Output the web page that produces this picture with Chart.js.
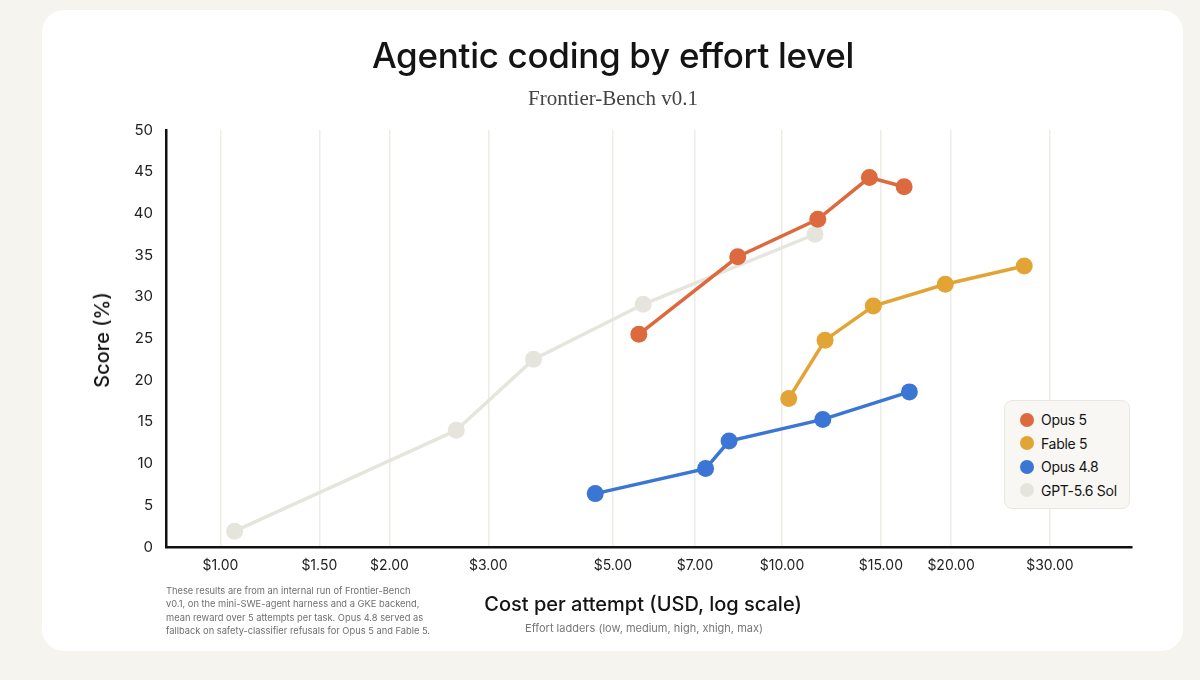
<!DOCTYPE html>
<html>
<head>
<meta charset="utf-8">
<script src="https://cdn.jsdelivr.net/npm/chart.js@4.4.1/dist/chart.umd.min.js"></script>
<style>
  html, body { margin: 0; padding: 0; }
  body { width: 1200px; height: 680px; background: #f6f4ee; position: relative; overflow: hidden; font-family: Inter, "Noto Sans", sans-serif; }
  #card { position: absolute; left: 42px; top: 10px; width: 1141px; height: 641px; background: #fff; border-radius: 22px; }
  #chart { position: absolute; left: 0; top: 0; }
  .abs { position: absolute; white-space: nowrap; }
  #title { left: 0; width: 1226px; top: 34px; text-align: center; font-size: 35px; font-weight: 500; color: #141414; letter-spacing: -0.3px; }
  #subtitle { left: 0; width: 1226px; top: 86px; text-align: center; font-family: "Liberation Serif", serif; font-size: 21px; color: #444; }
  #ytitle { left: 102px; top: 340px; transform: translate(-50%, -50%) rotate(-90deg); font-size: 20px; font-weight: 500; color: #141414; }
  #xtitle { left: 0; width: 1286px; top: 592px; text-align: center; font-size: 20px; font-weight: 500; color: #141414; }
  #xsub { left: 0; width: 1288px; top: 621px; text-align: center; font-size: 11px; color: #777; }
  #note { left: 166px; top: 584px; font-size: 9.3px; line-height: 13.4px; color: #6f6f6f; white-space: normal; width: 275px; }
  #legend { left: 1004px; top: 400px; width: 126px; height: 109px; box-sizing: border-box; background: #f8f7f3; border: 1px solid #e9e7e0; border-radius: 8px; padding: 7px 0 0 15px; }
  #legend div { height: 23.5px; display: flex; align-items: center; font-size: 14px; color: #141414; letter-spacing: -0.3px; }
  #legend span { display: inline-block; width: 14px; height: 14px; border-radius: 50%; margin-right: 7px; }
</style>
</head>
<body>
<div id="card"></div>
<canvas id="chart" width="1200" height="680"></canvas>
<div class="abs" id="title">Agentic coding by effort level</div>
<div class="abs" id="subtitle">Frontier-Bench v0.1</div>
<div class="abs" id="ytitle">Score (%)</div>
<div class="abs" id="xtitle">Cost per attempt (USD, log scale)</div>
<div class="abs" id="xsub">Effort ladders (low, medium, high, xhigh, max)</div>
<div class="abs" id="note">These results are from an internal run of Frontier-Bench<br>v0.1, on the mini-SWE-agent harness and a GKE backend,<br>mean reward over 5 attempts per task. Opus 4.8 served as<br>fallback on safety-classifier refusals for Opus 5 and Fable 5.</div>
<div class="abs" id="legend"></div>
<script>
const seriesNames = ['Opus 5', 'Fable 5', 'Opus 4.8', 'GPT-5.6 Sol'];
const seriesColors = ['#dc6a3e', '#e3a436', '#3b76d4', '#e5e4dd'];

const opus5Cost = [5.56, 8.34, 11.58, 14.31, 16.5];
const opus5Score = [25.5, 34.8, 39.3, 44.3, 43.2];
const fable5Cost = [10.28, 11.93, 14.54, 19.53, 27.0];
const fable5Score = [17.8, 24.8, 28.9, 31.5, 33.7];
const opus48Cost = [4.65, 7.31, 8.05, 11.82, 16.86];
const opus48Score = [6.4, 9.4, 12.7, 15.3, 18.6];
const gptCost = [1.06, 2.63, 3.61, 5.66, 11.45];
const gptScore = [1.9, 14.0, 22.5, 29.1, 37.5];

const xTicks = [1, 1.5, 2, 3, 5, 7, 10, 15, 20, 30];
const yTicks = [0, 5, 10, 15, 20, 25, 30, 35, 40, 45, 50];

const costs = [opus5Cost, fable5Cost, opus48Cost, gptCost];
const scores = [opus5Score, fable5Score, opus48Score, gptScore];

const datasets = seriesNames.map((name, i) => ({
    label: name,
    data: costs[i].map((c, j) => ({ x: c, y: scores[i][j] })),
    borderColor: seriesColors[i],
    backgroundColor: seriesColors[i],
    borderWidth: 3.5,
    pointRadius: 8.5,
    pointHoverRadius: 8.5,
    pointBorderWidth: 0,
    tension: 0
}));

document.getElementById('legend').innerHTML = seriesNames.map((name, i) =>
    `<div><span style="background:${seriesColors[i]}"></span>${name}</div>`
).join('');

new Chart(document.getElementById('chart'), {
    type: 'line',
    data: { datasets },
    options: {
        responsive: false,
        animation: false,
        events: [],
        layout: { padding: { left: 60, top: 130, right: 68, bottom: 0 } },
        plugins: { legend: { display: false }, tooltip: { enabled: false } },
        scales: {
            x: {
                type: 'logarithmic',
                min: 0.8,
                max: 42,
                afterBuildTicks: s => { s.ticks = xTicks.map(v => ({ value: v })); },
                afterFit: s => { s.height = 133; },
                grid: { color: '#eeece6', lineWidth: 1.5, drawTicks: false },
                border: { display: true, color: '#111', width: 2.5 },
                ticks: {
                    padding: 10,
                    color: '#222',
                    font: { family: 'Inter', size: 14 },
                    maxRotation: 0,
                    autoSkip: false,
                    callback: v => '$' + Number(v).toFixed(2)
                }
            },
            y: {
                min: 0,
                max: 50,
                afterBuildTicks: s => { s.ticks = yTicks.map(v => ({ value: v })); },
                afterFit: s => { s.width = 106; },
                grid: { display: false, drawTicks: false },
                border: { display: true, color: '#111', width: 2.5 },
                ticks: {
                    padding: 13,
                    color: '#222',
                    font: { family: 'Inter', size: 15 }
                }
            }
        }
    }
});
</script>
</body>
</html>
